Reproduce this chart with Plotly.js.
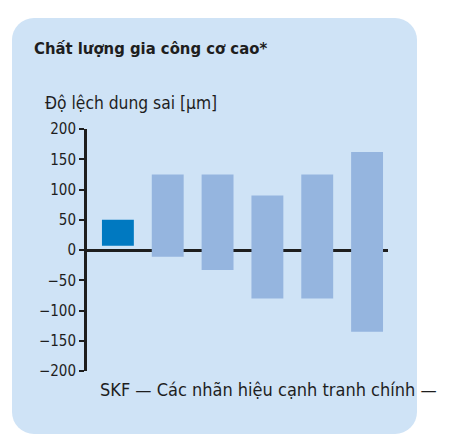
<!DOCTYPE html>
<html>
<head>
<meta charset="utf-8">
<script src="https://cdn.plot.ly/plotly-3.0.1.min.js"></script>
<style>
  html, body { margin: 0; padding: 0; background: #ffffff; }
  #panel { position: absolute; left: 12px; top: 18px; width: 405px; height: 416px; border-radius: 22px; background: #cfe3f6; }
  #chart { position: absolute; left: 0; top: 0; width: 458px; height: 446px; }
</style>
</head>
<body>
<div id="panel"></div>
<div id="chart"></div>
<script>
const categories = ['SKF', 'Đối thủ 1', 'Đối thủ 2', 'Đối thủ 3', 'Đối thủ 4', 'Đối thủ 5'];
const upperValues = [50, 125, 125, 90, 125, 162];
const lowerValues = [7, -11, -33, -80, -80, -135];
const tickValues = [-200, -150, -100, -50, 0, 50, 100, 150, 200];
const tickLabels = ['−200', '−150', '−100', '−50', '0', '50', '100', '150', '200'];
const titleText = 'Chất lượng gia công cơ cao*';
const yTitleText = 'Độ lệch dung sai [µm]';
const bottomText = 'SKF — Các nhãn hiệu cạnh tranh chính —';

const FONT = '"DejaVu Sans Condensed", "Liberation Sans Narrow", sans-serif';
const DARK = '#1e1e1e';

const barColors = categories.map((c, i) => i === 0 ? '#0079c1' : '#95b5df');

const trace = {
  type: 'bar',
  x: categories,
  y: upperValues.map((u, i) => u - lowerValues[i]),
  base: lowerValues,
  marker: { color: barColors, line: { width: 0 } },
  width: 0.64,
  hoverinfo: 'skip'
};

const layout = {
  width: 458,
  height: 446,
  margin: { l: 87, r: 70, t: 129, b: 75, pad: 0 },
  paper_bgcolor: 'rgba(0,0,0,0)',
  plot_bgcolor: 'rgba(0,0,0,0)',
  showlegend: false,
  font: { family: FONT, color: DARK, size: 15 },
  xaxis: {
    type: 'category',
    range: [-0.62, 5.42],
    showticklabels: false,
    showgrid: false,
    zeroline: false,
    showline: false,
    ticks: ''
  },
  yaxis: {
    range: [-200, 200],
    tickvals: tickValues,
    ticktext: tickLabels,
    showgrid: false,
    zeroline: true,
    zerolinecolor: DARK,
    zerolinewidth: 3,
    showline: true,
    linecolor: DARK,
    linewidth: 3,
    ticks: 'outside',
    ticklen: 5,
    tickwidth: 2,
    tickcolor: DARK,
    tickfont: { family: FONT, size: 15, color: DARK }
  },
  annotations: [
    { text: '<b>' + titleText + '</b>', xref: 'paper', yref: 'paper', x: -0.1827, y: 1.3347, xanchor: 'left', yanchor: 'middle', showarrow: false, font: { family: FONT, size: 16.5, color: DARK } },
    { text: yTitleText, xref: 'paper', yref: 'paper', x: -0.1462, y: 1.1074, xanchor: 'left', yanchor: 'middle', showarrow: false, font: { family: FONT, size: 17.3, color: DARK } },
    { text: bottomText, xref: 'paper', yref: 'paper', x: 0.0365, y: -0.0744, xanchor: 'left', yanchor: 'middle', showarrow: false, font: { family: FONT, size: 18, color: DARK } }
  ]
};

Plotly.newPlot('chart', [trace], layout, { staticPlot: true, displayModeBar: false });
</script>
</body>
</html>
